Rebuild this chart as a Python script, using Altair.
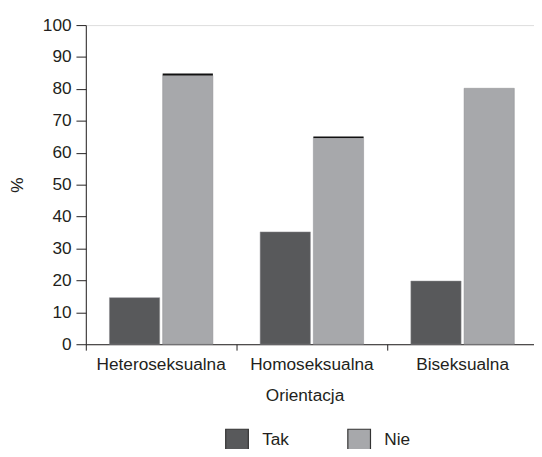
import altair as alt
import pandas as pd

categories = ["Heteroseksualna", "Homoseksualna", "Biseksualna"]
tak = [14.6, 35.2, 19.8]
nie = [84.2, 64.6, 80.2]
nie_edge = [84.8, 65.1, None]
series = ["Tak", "Nie"]

rows = []
for c, t, n in zip(categories, tak, nie):
    rows.append({"Orientacja": c, "Odp": "Tak", "v": t})
    rows.append({"Orientacja": c, "Odp": "Nie", "v": n})
df = pd.DataFrame(rows)

edges = pd.DataFrame([
    {"Orientacja": c, "Odp": "Nie", "v": e, "bot": n}
    for c, n, e in zip(categories, nie, nie_edge) if e is not None
])

FONT = "Liberation Sans"
INK = "#231f20"

x_enc = alt.X(
    "Orientacja:N", sort=categories, title="Orientacja",
    scale=alt.Scale(paddingInner=0, paddingOuter=0, range=[0, 459]),
    axis=alt.Axis(labelAngle=0, bandPosition=0, tickSize=6, labelPadding=6,
                  titlePadding=14, domainColor=INK, tickColor=INK,
                  labelFontSize=17.5, titleFontSize=17.5, titleFontWeight="normal",
                  labelColor=INK, titleColor=INK, titleX=222),
)
y_enc = alt.Y("v:Q", title="%", scale=alt.Scale(domain=[0, 100]),
              axis=alt.Axis(values=list(range(0, 101, 10)), tickSize=10,
                            labelPadding=5, labelOverlap=False, grid=False,
                            titlePadding=16, domainColor=INK, tickColor=INK,
                            labelFontSize=17.5, titleFontSize=17.5,
                            titleFontWeight="normal", labelColor=INK, titleColor=INK))
xoff = alt.XOffset("Odp:N", sort=series,
                   scale=alt.Scale(paddingInner=0.0556, paddingOuter=0.444))

bars = alt.Chart(df).mark_bar(stroke="#8c8d90", strokeWidth=0.5).encode(
    x=x_enc,
    xOffset=xoff,
    y=y_enc,
    color=alt.Color("Odp:N", sort=series,
                    scale=alt.Scale(domain=series, range=["#58595b", "#a7a8ab"]),
                    legend=alt.Legend(orient="none", legendX=141, legendY=409,
                                      title=None, direction="horizontal", padding=0,
                                      symbolType="square", symbolSize=529,
                                      symbolStrokeColor="#333333", symbolStrokeWidth=1.2,
                                      labelFontSize=17.5, labelColor=INK,
                                      columnPadding=56, labelOffset=13)),
)

edge_bars = alt.Chart(edges).mark_bar(color="#111111").encode(
    x=x_enc,
    xOffset=xoff,
    y=y_enc,
    y2="bot:Q",
)

chart = (bars + edge_bars).properties(
    width=455, height=324,
    autosize=alt.AutoSizeParams(type="none"),
    padding={"left": 79, "top": 14, "right": 0, "bottom": 103},
).configure_view(stroke=None).configure(font=FONT)

chart.save("out.html", embed_options={"renderer": "svg", "actions": False})
